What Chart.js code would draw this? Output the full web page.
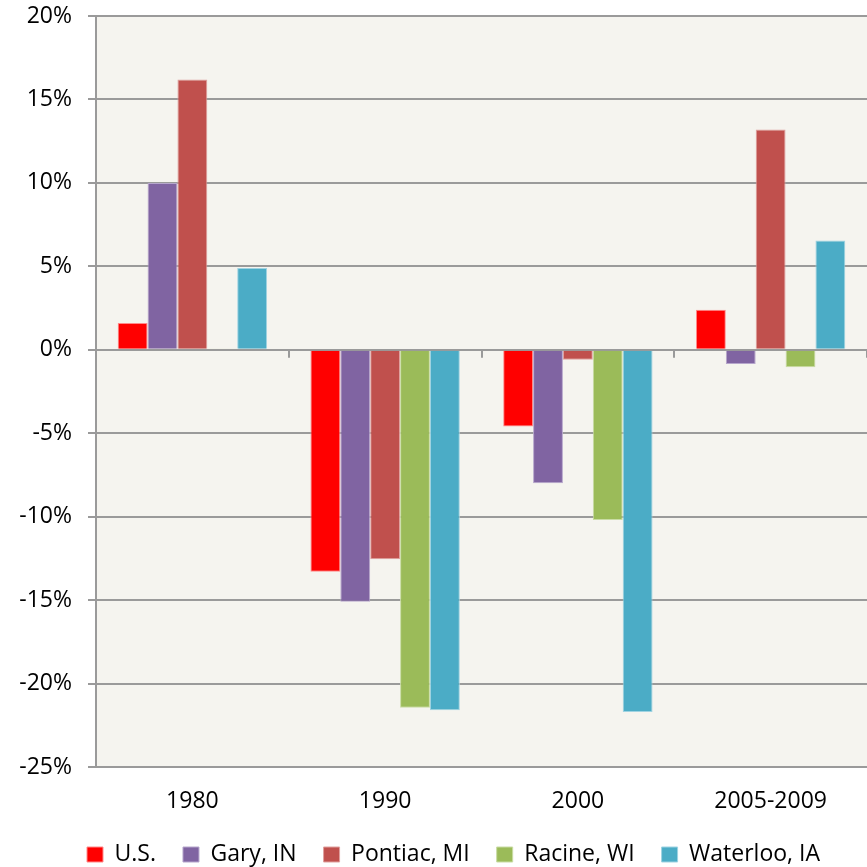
<!DOCTYPE html>
<html>
<head>
<meta charset="utf-8">
<script src="https://cdn.jsdelivr.net/npm/chart.js@4/dist/chart.umd.min.js"></script>
<style>
  body { margin: 0; background: #ffffff; }
  canvas { display: block; }
</style>
</head>
<body>
<canvas id="chart" width="867" height="867"></canvas>
<script>
// data (percent change)
const categories = ["1980", "1990", "2000", "2005-2009"];
const usValues = [1.6, -13.3, -4.6, 2.4];
const garyValues = [10.0, -15.1, -8.0, -0.85];
const pontiacValues = [16.2, -12.55, -0.6, 13.2];
const racineValues = [0.05, -21.45, -10.2, -1.05];
const waterlooValues = [4.9, -21.6, -21.7, 6.55];
const yTicks = [20, 15, 10, 5, 0, -5, -10, -15, -20, -25];

const font = { family: "'Open Sans', sans-serif", size: 23 };

// plot area background
const plotBg = {
  id: "plotBg",
  beforeDraw(chart) {
    const { ctx, chartArea: a } = chart;
    ctx.save();
    ctx.fillStyle = "#f5f4ef";
    ctx.fillRect(a.left, a.top, a.right - a.left, a.bottom - a.top);
    ctx.restore();
  }
};

// legend sits a bit lower and is centred under the plot, not the canvas
const legendFit = {
  id: "legendFit",
  afterInit(chart) {
    const lg = chart.legend;
    const orig = lg.fit;
    lg.fit = function () {
      orig.call(this);
      this.height -= 9;
    };
  },
  afterLayout(chart) {
    chart.legend.left += 20;
    chart.legend.right += 20;
  }
};

// small category tick marks hanging below the 0% line
const zeroTicks = {
  id: "zeroTicks",
  afterDatasetsDraw(chart) {
    const x = chart.scales.x, y = chart.scales.y;
    const y0 = y.getPixelForValue(0);
    const half = (x.getPixelForValue(1) - x.getPixelForValue(0)) / 2;
    const ctx = chart.ctx;
    ctx.save();
    ctx.strokeStyle = "#9a9a9a";
    ctx.lineWidth = 2;
    ctx.beginPath();
    for (let i = 0; i < categories.length; i++) {
      const px = Math.round(x.getPixelForValue(i) + half);
      ctx.moveTo(px, y0);
      ctx.lineTo(px, y0 + 8);
    }
    ctx.stroke();
    ctx.restore();
  }
};

function ds(label, data, color, edge) {
  return {
    label: label,
    data: data,
    backgroundColor: color,
    borderColor: edge,
    borderWidth: 1,
    barPercentage: 1,
    categoryPercentage: 0.775
  };
}

new Chart(document.getElementById("chart").getContext("2d"), {
  type: "bar",
  data: {
    labels: categories,
    datasets: [
      ds("U.S.", usValues, "#ff0000", "#ff8a8a"),
      ds("Gary, IN", garyValues, "#8064a2", "#b6a6cc"),
      ds("Pontiac, MI", pontiacValues, "#c0504d", "#e0a19f"),
      ds("Racine, WI", racineValues, "#9bbb59", "#c9dca4"),
      ds("Waterloo, IA", waterlooValues, "#4bacc6", "#9fd3e2")
    ]
  },
  options: {
    responsive: false,
    animation: false,
    layout: { padding: { top: 0, right: 0, left: 0, bottom: 0 } },
    plugins: {
      legend: {
        position: "bottom",
        labels: {
          color: "#000000",
          font: font,
          boxWidth: 16,
          boxHeight: 15,
          padding: 27
        }
      },
      tooltip: { enabled: false }
    },
    scales: {
      x: {
        grid: { display: false },
        border: { display: false },
        ticks: { color: "#000000", font: font, padding: 13, maxRotation: 0 },
        afterFit(scale) { scale.height = 49; }
      },
      y: {
        min: -25,
        max: 20,
        afterBuildTicks(scale) { scale.ticks = yTicks.map(v => ({ value: v })); },
        afterFit(scale) {
          scale.width = 96;
          scale.paddingTop = 16;
          scale.paddingBottom = 0;
        },
        grid: { color: "#9a9a9a", lineWidth: 2, tickLength: 8 },
        border: { color: "#9a9a9a", width: 2 },
        ticks: {
          color: "#000000",
          font: font,
          padding: 16,
          callback: v => v + "%"
        }
      }
    }
  },
  plugins: [plotBg, legendFit, zeroTicks]
});
</script>
</body>
</html>
